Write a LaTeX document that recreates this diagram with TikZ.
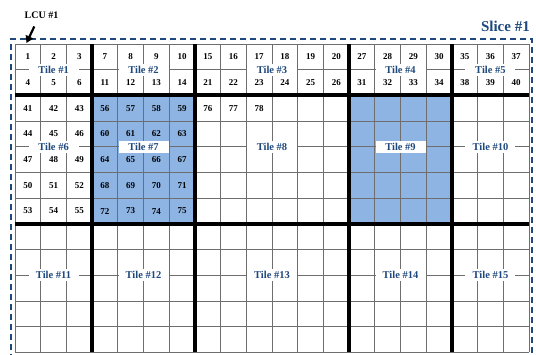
\documentclass[tikz,border=0pt]{standalone}
\usepackage{fontspec}
\setmainfont{Liberation Serif}
\usetikzlibrary{arrows.meta}
\definecolor{tileblue}{HTML}{1F497D}
\definecolor{fillblue}{HTML}{8EB4E3}
\definecolor{gridgray}{HTML}{6E6E6E}
\begin{document}
\begin{tikzpicture}[x=1pt,y=-1pt,
  gridline/.style={draw=gridgray,line width=0.9pt},
  tileline/.style={draw=black,line width=4pt},
  cellnum/.style={inner sep=0pt,font=\fontsize{9}{10}\selectfont\bfseries},
  tilelabel/.style={fill=white,inner sep=0pt,minimum width=50pt,minimum height=12pt,
    text=tileblue,font=\fontsize{10.5}{12}\selectfont\bfseries},
  slicebox/.style={draw=tileblue,line width=1.8pt,dash pattern=on 6pt off 4pt},
  pointer/.style={draw=black,line width=2.2pt,-{Triangle[length=7pt,width=8pt]}}]
\useasboundingbox (0,0) rectangle (536,354);
\clip (0,0) rectangle (536,354);
\def\W{25.7}
% blue tiles
\fill[fillblue] ({15+3*\W},{44+2*\W}) rectangle ({15+7*\W},{44+7*\W});
\fill[fillblue] ({15+13*\W},{44+2*\W}) rectangle ({15+17*\W},{44+7*\W});
% thin grid
\foreach \i in {0,...,20} \draw[gridline] ({15+\i*\W},44) -- ({15+\i*\W},{44+12*\W});
\foreach \j in {0,...,12} \draw[gridline] (15,{44+\j*\W}) -- ({15+20*\W},{44+\j*\W});
% thick tile borders
\foreach \i in {3,7,13,17} \draw[tileline] ({15+\i*\W},44) -- ({15+\i*\W},{44+12*\W});
\foreach \j in {2,7} \draw[tileline] (15,{44+\j*\W}) -- ({15+20*\W},{44+\j*\W});
% cell numbers
\foreach \ca/\cb/\ra/\rb/\st in {0/2/0/1/1, 3/6/0/1/7, 7/12/0/1/15, 13/16/0/1/27, 17/19/0/1/35,
                                 0/2/2/6/41, 3/6/2/6/56, 7/9/2/2/76} {
  \foreach \r in {\ra,...,\rb} {
    \foreach \c in {\ca,...,\cb} {
      \pgfmathtruncatemacro\n{\st+(\r-\ra)*(\cb-\ca+1)+(\c-\ca)}
      \node[cellnum] (n\n) at ({15+(\c+0.5)*\W},{44+(\r+0.5)*\W}) {\n};
    }
  }
}
% tile labels
\foreach \ca/\cb/\ln/\t in {0/3/1/1, 3/7/1/2, 7/13/1/3, 13/17/1/4, 17/20/1/5,
                             0/3/4/6, 3/7/4/7, 7/13/4/8, 13/17/4/9, 17/20/4/10,
                             0/3/9/11, 3/7/9/12, 7/13/9/13, 13/17/9/14, 17/20/9/15} {
  \node[tilelabel] (t\t) at ({15+(\ca+\cb)/2*\W},{44+\ln*\W}) {Tile \#\t};
}
% slice border
\draw[slicebox] (11,370) -- (11,39) -- (532,39) -- (532,370);
\node[text=tileblue,font=\fontsize{15}{18}\selectfont\bfseries,inner sep=0pt,anchor=east] (slice) at (530,26) {Slice \#1};
% LCU pointer
\node[font=\fontsize{10}{12}\selectfont\bfseries,inner sep=0pt] (lcu) at (41.5,15.7) {LCU \#1};
\coordinate (lcutail) at (34.3,26.5);
\coordinate (lcucorner) at (26.5,43);
\draw[pointer] (lcutail) -- (lcucorner);
\end{tikzpicture}
\end{document}
